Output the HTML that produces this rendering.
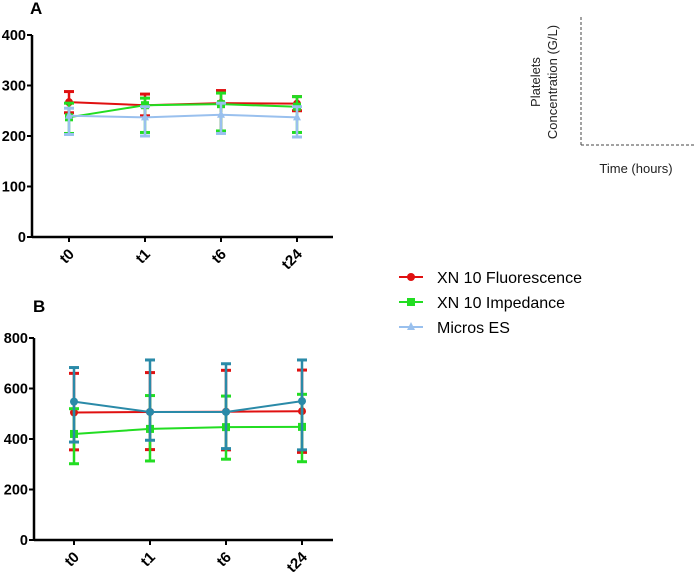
<!DOCTYPE html>
<html><head><meta charset="utf-8"><style>
body{margin:0;background:#fff}
svg{display:block;font-family:"Liberation Sans",Arial,sans-serif}
</style></head><body>
<svg id="c" width="694" height="575" viewBox="0 0 694 575">
<text x="30" y="14" font-size="17" font-weight="bold">A</text>
<text x="33" y="312" font-size="17" font-weight="bold">B</text>
<g>
<line x1="581" y1="17" x2="581" y2="145" stroke="#444" stroke-dasharray="3,2"/>
<line x1="581" y1="145" x2="694" y2="145" stroke="#444" stroke-dasharray="3,2"/>
<text transform="translate(540,82) rotate(-90)" text-anchor="middle" font-size="13" fill="#222">Platelets</text>
<text transform="translate(557,82) rotate(-90)" text-anchor="middle" font-size="13" fill="#222">Concentration (G/L)</text>
<text x="636" y="173" text-anchor="middle" font-size="13" fill="#222">Time (hours)</text>
</g>
<g>
<g><line x1="399" y1="277" x2="423" y2="277" stroke="#e01010" stroke-width="2"/><circle cx="411" cy="277" r="4" fill="#e01010"/><text x="437" y="283" font-size="16">XN 10 Fluorescence</text></g>
<g><line x1="399" y1="302" x2="423" y2="302" stroke="#22dd22" stroke-width="2"/><rect x="407" y="298" width="8" height="8" fill="#22dd22"/><text x="437" y="308" font-size="16">XN 10 Impedance</text></g>
<g><line x1="399" y1="327" x2="423" y2="327" stroke="#99c0ee" stroke-width="2"/><path d="M411,322 L415,330 L407,330 Z" fill="#99c0ee"/><text x="437" y="333" font-size="16">Micros ES</text></g>
</g>
</svg>
<script>
const categories=["t0","t1","t6","t24"];
const aFluoMean=[267,261,265,264], aFluoHi=[288,283,290,278], aFluoLo=[246,240,207,250];
const aImpMean=[237,261,263,258], aImpHi=[265,275,285,278], aImpLo=[205,207,210,207];
const aMicMean=[240,237,242,237], aMicHi=[255,258,265,258], aMicLo=[203,200,205,198];
const aTicks=[0,100,200,300,400];
const bFluoMean=[505,507,508,510], bFluoHi=[660,663,672,673], bFluoLo=[357,358,357,347];
const bImpMean=[420,440,447,448], bImpHi=[520,572,570,577], bImpLo=[302,313,320,310];
const bMicMean=[548,507,507,550], bMicHi=[683,713,698,713], bMicLo=[388,395,362,357];
const bTicks=[0,200,400,600,800];
const svg=document.getElementById('c');
const NS='http://www.w3.org/2000/svg';
function mk(t,a,p){const e=document.createElementNS(NS,t);for(const k in a)e.setAttribute(k,a[k]);(p||svg).appendChild(e);return e;}
function panel(id,ax,x0,x1,yTop,yBot,xs,ticks,series){
  const max=ticks[ticks.length-1];
  const y=v=>yBot-(v/max)*(yBot-yTop);
  const x=i=>xs[0]+i*(xs[1]-xs[0]);
  const g=mk('g',{});
  
  
  const yax=mk('line',{x1:ax,y1:yTop,x2:ax,y2:yBot,stroke:'#000','stroke-width':2.5},g);
  
  
  const xax=mk('line',{x1:ax,y1:yBot,x2:x1,y2:yBot,stroke:'#000','stroke-width':2.5},g);
  
  
  ticks.forEach(t=>{
    mk('line',{x1:ax-5,y1:y(t),x2:ax,y2:y(t),stroke:'#000','stroke-width':2},g);
    const tx=mk('text',{x:ax-6,y:y(t)+5,'text-anchor':'end','font-size':14.5,'font-weight':'bold'},g);
    tx.textContent=t;
    
    
  });
  categories.forEach((c,i)=>{
    mk('line',{x1:x(i),y1:yBot,x2:x(i),y2:yBot+5,stroke:'#000','stroke-width':2},g);
    const tx=mk('text',{transform:`translate(${x(i)+6},${yBot+18}) rotate(-45)`,'text-anchor':'end','font-size':15,'font-weight':'bold'},g);
    tx.textContent=c;
    
    
  });
  series.forEach(s=>{
    const sg=mk('g',{},g);
    
    
    s.mean.forEach((m,i)=>{
      mk('line',{x1:x(i),y1:y(s.lo[i]),x2:x(i),y2:y(s.hi[i]),stroke:s.col,'stroke-width':2.5},sg);
      mk('line',{x1:x(i)-5,y1:y(s.lo[i]),x2:x(i)+5,y2:y(s.lo[i]),stroke:s.col,'stroke-width':3},sg);
      mk('line',{x1:x(i)-5,y1:y(s.hi[i]),x2:x(i)+5,y2:y(s.hi[i]),stroke:s.col,'stroke-width':3},sg);
    });
    const pl=mk('polyline',{points:s.mean.map((m,i)=>x(i)+','+y(m)).join(' '),fill:'none',stroke:s.col,'stroke-width':2},sg);
    
    
    s.mean.forEach((m,i)=>{
      let e;
      if(s.mk==='c')e=mk('circle',{cx:x(i),cy:y(m),r:4,fill:s.col},sg);
      else if(s.mk==='s')e=mk('rect',{x:x(i)-4,y:y(m)-4,width:8,height:8,fill:s.col},sg);
      else e=mk('path',{d:`M${x(i)},${y(m)-5} L${x(i)+4},${y(m)+3} L${x(i)-4},${y(m)+3} Z`,fill:s.col},sg);
      
      
    });
  });
}
panel('panel-a',32,32,333,35,237,[69,145],aTicks,[
 {name:'fluorescence',col:'#e01010',mk:'c',mean:aFluoMean,hi:aFluoHi,lo:aFluoLo},
 {name:'impedance',col:'#22dd22',mk:'s',mean:aImpMean,hi:aImpHi,lo:aImpLo},
 {name:'micros',col:'#99c0ee',mk:'t',mean:aMicMean,hi:aMicHi,lo:aMicLo}]);
panel('panel-b',34,34,333,338,540,[74,150],bTicks,[
 {name:'fluorescence',col:'#e01010',mk:'c',mean:bFluoMean,hi:bFluoHi,lo:bFluoLo},
 {name:'impedance',col:'#22dd22',mk:'s',mean:bImpMean,hi:bImpHi,lo:bImpLo},
 {name:'micros',col:'#2a8aa8',mk:'c',mean:bMicMean,hi:bMicHi,lo:bMicLo}]);
</script>
</body></html>
